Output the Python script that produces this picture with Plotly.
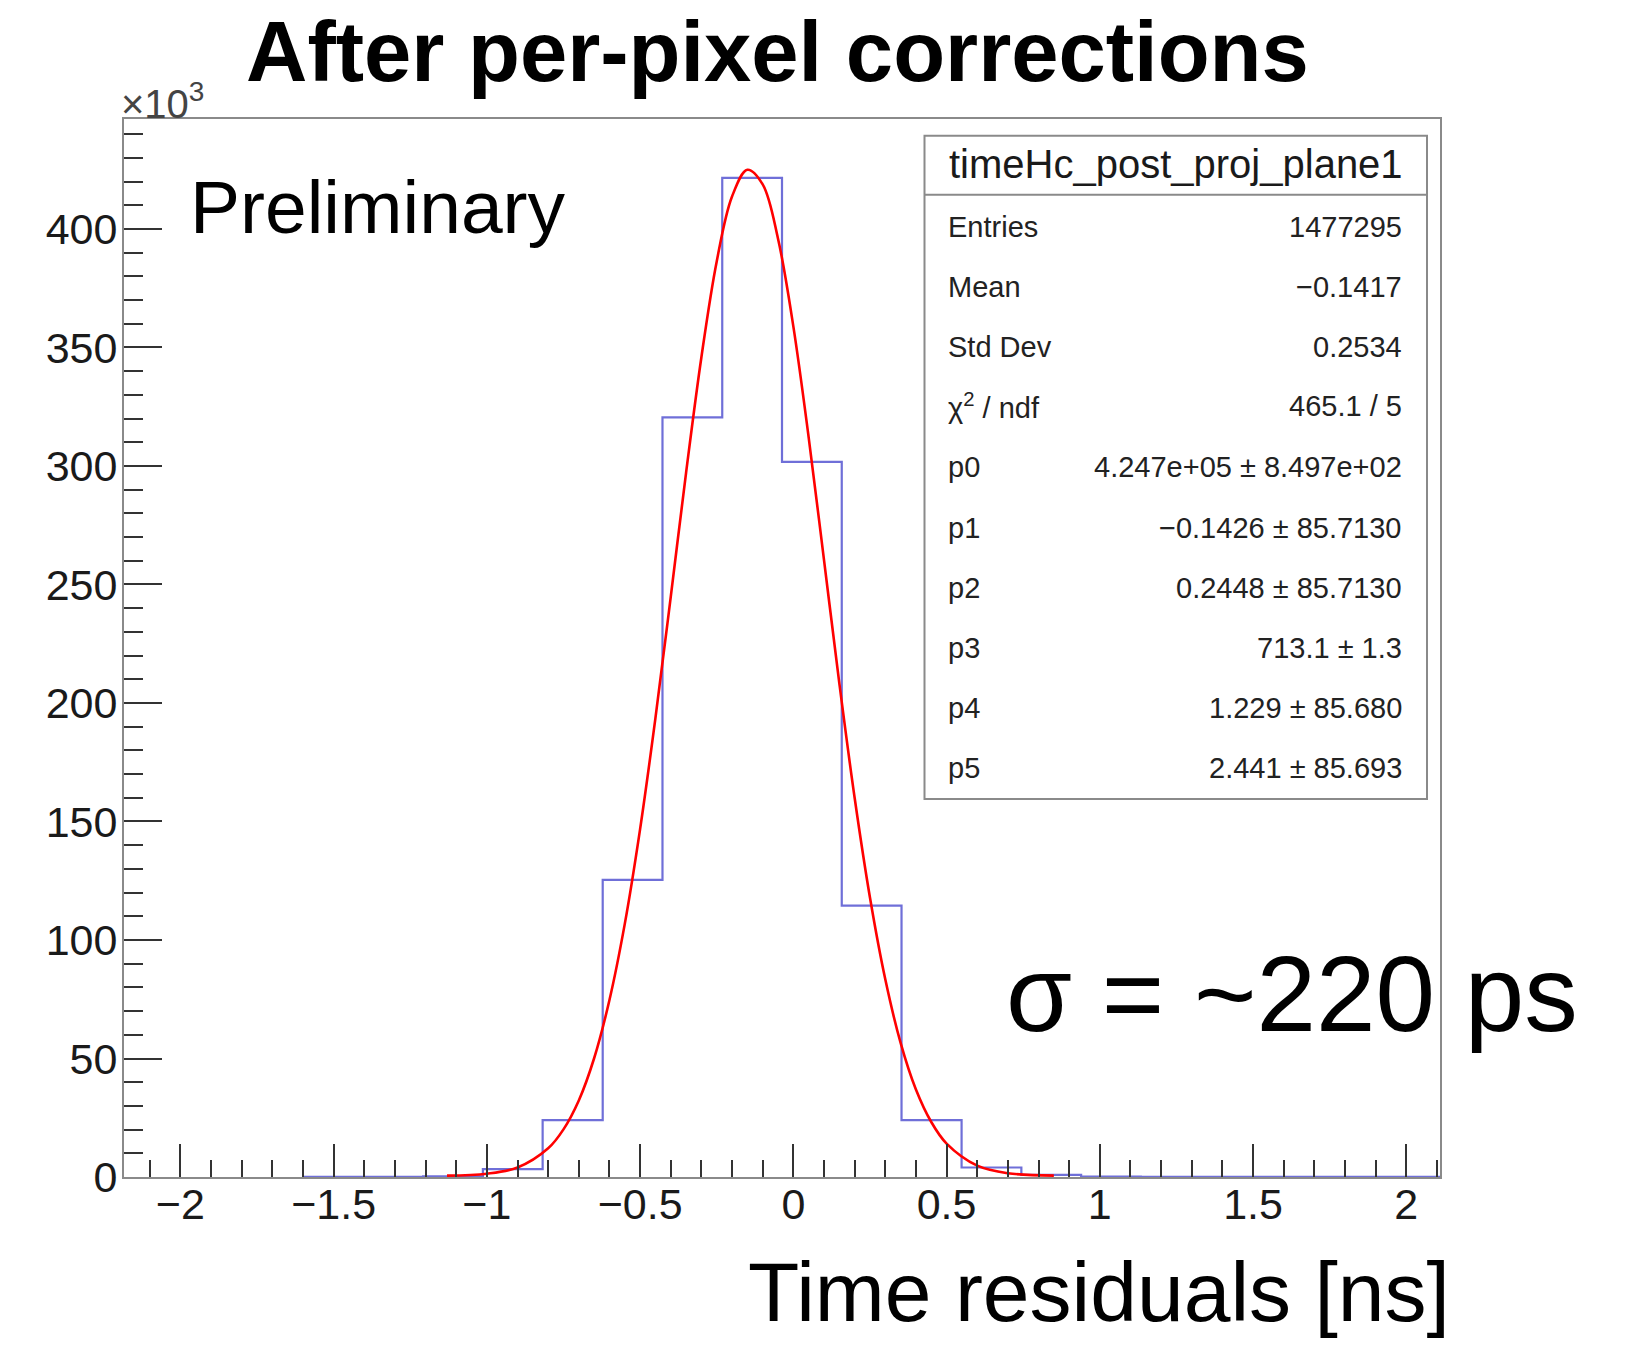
import plotly.graph_objects as go

# ---------------- data ----------------
# histogram bin edges (ns) and contents (x10^3 entries)
bin_edges = [-1.598, -1.403, -1.208, -1.013, -0.818, -0.622, -0.427, -0.232,
             -0.037, 0.158, 0.353, 0.549, 0.744, 0.939, 1.134, 1.329, 1.525,
             1.720, 1.915, 2.110]
bin_counts = [0.05, 0.1, 0.3, 3.3, 24.0, 125.4, 320.5, 421.6, 301.7, 114.5,
              24.0, 4.0, 0.9, 0.2, 0.1, 0.05, 0.03, 0.02, 0.02]

# fitted curve (ns, x10^3)
fit_x = [-1.13, -1.0, -0.9, -0.8, -0.75, -0.7, -0.65, -0.6, -0.55, -0.5, -0.45,
         -0.4, -0.35, -0.3, -0.25, -0.2, -0.15, -0.1, -0.05, 0.0, 0.05, 0.1,
         0.15, 0.2, 0.25, 0.3, 0.35, 0.4, 0.45, 0.5, 0.6, 0.7, 0.85]
fit_y = [0.6, 1.4, 4.0, 12.1, 20.1, 32.3, 50.1, 74.7, 106.8, 146.8, 193.6,
         244.8, 297.1, 345.9, 386.3, 413.7, 425.0, 418.8, 395.9, 358.9, 312.1,
         260.4, 208.4, 160.0, 117.9, 83.4, 56.6, 36.9, 23.2, 14.1, 4.8, 1.6, 0.6]

x_tick_vals = [-2, -1.5, -1, -0.5, 0, 0.5, 1, 1.5, 2]
x_tick_labels = ["\u22122", "\u22121.5", "\u22121", "\u22120.5", "0", "0.5", "1", "1.5", "2"]
y_tick_vals = [0, 50, 100, 150, 200, 250, 300, 350, 400]
y_tick_labels = ["0", "50", "100", "150", "200", "250", "300", "350", "400"]

x_range = [-2.184, 2.110]
y_range = [0, 446.4]

stats_title = "timeHc_post_proj_plane1"
stats_labels = ["Entries", "Mean", "Std Dev", "\u03c7<sup>2</sup> / ndf",
                "p0", "p1", "p2", "p3", "p4", "p5"]
stats_values = ["1477295", "\u22120.1417", "0.2534", "465.1 / 5",
                "4.247e+05 \u00b1 8.497e+02", "\u22120.1426 \u00b1 85.7130",
                "0.2448 \u00b1 85.7130", "713.1 \u00b1 1.3",
                "1.229 \u00b1 85.680", "2.441 \u00b1 85.693"]

# ---------------- layout geometry (pixels) ----------------
W, H = 1625, 1346
L, R, T, B = 124, 1440, 119, 1177
PW, PH = R - L, B - T


def px(xp):
    return (xp - L) / PW


def py(yp):
    return (B - yp) / PH


FONT = "Liberation Sans, Arial, Helvetica, sans-serif"

fig = go.Figure()

# histogram outline
fig.add_trace(go.Scatter(
    x=bin_edges,
    y=bin_counts + [bin_counts[-1]],
    mode="lines",
    line=dict(shape="hv", color="rgba(50,50,200,0.7)", width=2.2),
    hoverinfo="skip",
    showlegend=False,
))

# fit curve
fig.add_trace(go.Scatter(
    x=fit_x, y=fit_y, mode="lines",
    line=dict(shape="spline", color="#ff0000", width=2.6),
    hoverinfo="skip", showlegend=False,
))

tick_font = dict(family=FONT, size=43, color="#1a1a1a")

fig.update_xaxes(
    range=x_range, tickmode="array", tickvals=x_tick_vals, ticktext=x_tick_labels,
    ticks="inside", ticklen=33, tickwidth=1.6, tickcolor="#333",
    minor=dict(dtick=0.1, tick0=0, ticks="inside", ticklen=17, tickwidth=1.6, tickcolor="#333"),
    showgrid=False, zeroline=False,
    showline=True, mirror=True, linecolor="#8a8a8a", linewidth=2,
    tickfont=tick_font, ticklabelstandoff=-12,
)
fig.update_yaxes(
    range=y_range, tickmode="array", tickvals=y_tick_vals, ticktext=y_tick_labels,
    ticks="inside", ticklen=38, tickwidth=1.6, tickcolor="#333",
    minor=dict(dtick=10, tick0=0, ticks="inside", ticklen=19, tickwidth=1.6, tickcolor="#333"),
    showgrid=False, zeroline=False,
    showline=True, mirror=True, linecolor="#8a8a8a", linewidth=2,
    tickfont=tick_font, ticklabelstandoff=-4,
)

# stats box
box_l, box_r, box_t, box_b, box_h = 924.5, 1427, 135.8, 799, 194.8
fig.add_shape(type="rect", xref="paper", yref="paper",
              x0=px(box_l), x1=px(box_r), y0=py(box_b), y1=py(box_t),
              line=dict(color="#8a8a8a", width=2), fillcolor="white", layer="above")
fig.add_shape(type="line", xref="paper", yref="paper",
              x0=px(box_l), x1=px(box_r), y0=py(box_h), y1=py(box_h),
              line=dict(color="#8a8a8a", width=2), layer="above")

ann = []
ann.append(dict(text=stats_title, x=px((box_l + box_r) / 2), y=py(164),
                xanchor="center", yanchor="middle",
                font=dict(family=FONT, size=40, color="#1a1a1a")))
row_y = [227.0, 287.1, 347.2, 406.3, 467.4, 527.5, 587.6, 647.8, 707.9, 768.0]
for lab, val, yy in zip(stats_labels, stats_values, row_y):
    ann.append(dict(text=lab, x=px(946), y=py(yy), xanchor="left", yanchor="middle",
                    font=dict(family=FONT, size=29, color="#222")))
    ann.append(dict(text=val, x=px(1404), y=py(yy), xanchor="right", yanchor="middle",
                    font=dict(family=FONT, size=29, color="#222")))

# title and free text
ann.append(dict(text="<b>After per-pixel corrections</b>", x=px(777), y=py(51),
                xanchor="center", yanchor="middle",
                font=dict(family=FONT, size=85, color="black")))
ann.append(dict(text="\u00d710<sup>3</sup>", x=px(119), y=py(101),
                xanchor="left", yanchor="middle",
                font=dict(family=FONT, size=40, color="#444")))
ann.append(dict(text="Preliminary", x=px(188), y=py(207),
                xanchor="left", yanchor="middle",
                font=dict(family=FONT, size=75, color="black")))
ann.append(dict(text="\u03c3 = ~220 ps", x=px(1004), y=py(994),
                xanchor="left", yanchor="middle",
                font=dict(family=FONT, size=107, color="black")))
ann.append(dict(text="Time residuals [ns]", x=px(1452), y=py(1292),
                xanchor="right", yanchor="middle",
                font=dict(family=FONT, size=84, color="black")))

for a in ann:
    a.update(xref="paper", yref="paper", showarrow=False)

fig.update_layout(
    width=W, height=H, autosize=False,
    margin=dict(l=L, r=W - R, t=T, b=H - B, pad=0),
    paper_bgcolor="white", plot_bgcolor="white",
    annotations=ann,
    showlegend=False,
)

fig.write_html("out.html")
